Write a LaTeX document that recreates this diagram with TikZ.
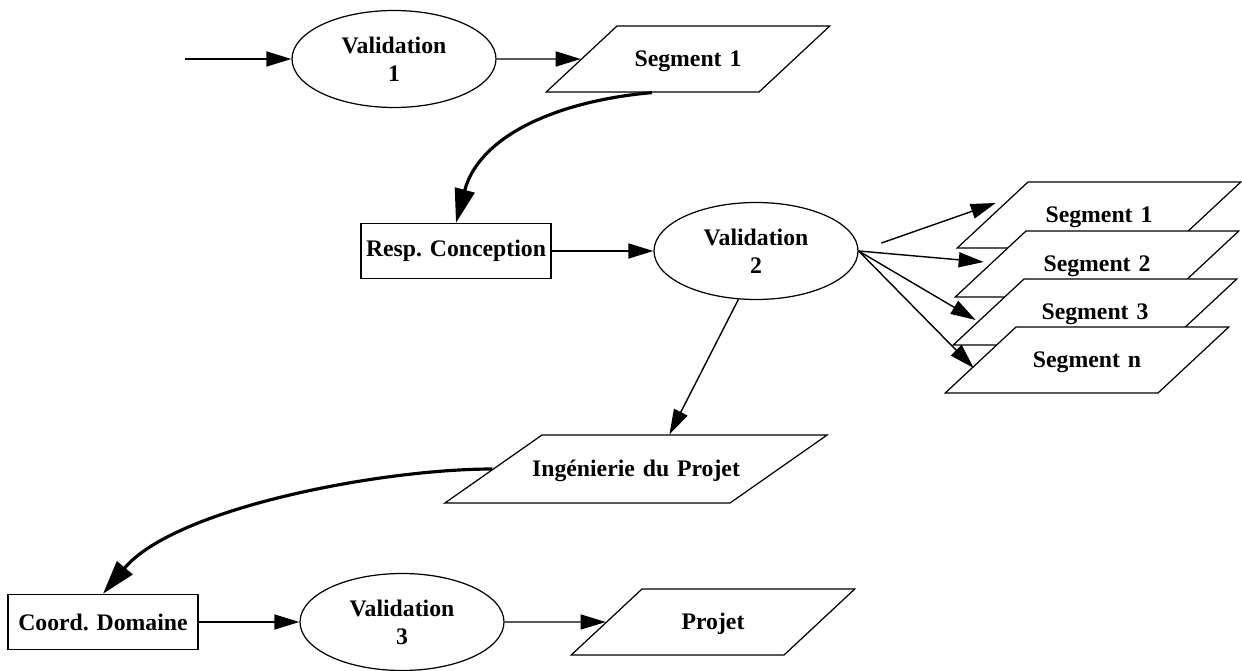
\documentclass[tikz,border=0pt]{standalone}
\usepackage{fontspec}
\setmainfont{Liberation Serif}
\usetikzlibrary{arrows.meta, positioning, shapes.geometric, calc}

\begin{document}
\begin{tikzpicture}[
    x=0.2mm, y=-0.2mm,
    every node/.style={font=\fontsize{13.5}{16}\selectfont\bfseries, align=center},
    valid/.style={ellipse, draw, line width=0.7pt, minimum width=40.8mm,
                  minimum height=19.4mm, inner sep=0pt},
    box/.style={rectangle, draw, line width=0.8pt, minimum width=38mm,
                minimum height=11mm, inner sep=0pt},
    seg/.style={trapezium, trapezium left angle=43, trapezium right angle=137,
                draw, fill=white, line width=0.7pt, inner sep=0pt,
                text width=28.4mm, text height=8.17mm, text depth=5.03mm},
    arr/.style={-{Triangle[length=5mm, width=3mm]}, line width=0.8pt},
    curv/.style={-{Triangle[length=6.8mm, width=4mm]}, line width=1.8pt}
  ]
  \useasboundingbox (0,0) rectangle (1242,671);

  \coordinate (in) at (185,59);
  \node[valid] (v1) at (394,59) {Validation\\1};
  \node[seg] (seg1) at (688,59) {Segment 1};
  \node[box] (resp) at (456,251) {Resp. Conception};
  \node[valid] (v2) at (756,251) {Validation\\2};

  % pile des segments
  \node[seg] (s1) at (1099,215) {Segment 1};
  \node[seg] (s2) at (1097,264) {Segment 2};
  \node[seg] (s3) at (1095,312) {Segment 3};
  \node[seg] (sn) at (1087,360) {Segment n};

  \node[seg, trapezium left angle=35, trapezium right angle=145, text width=37.6mm,
        text height=8.37mm, text depth=5.23mm] (ing) at (636,469)
        {\makebox[\linewidth]{Ingénierie du Projet}};
  \node[box] (coord) at (103,622) {Coord. Domaine};
  \node[valid] (v3) at (402,622) {Validation\\3};
  \node[seg] (proj) at (713,622) {Projet};

  \draw[arr] (in) -- (v1);
  \draw[arr] (v1) -- (seg1);
  \draw[curv] (seg1.bottom side) to[out=185, in=75] (resp.north);
  \draw[arr] (resp) -- (v2);
  \draw[arr, shorten <=4.8mm] (v2.east) -- ($(s1.left side)+(4,-12)$);
  \draw[arr] (v2.east) -- ($(s2.left side)+(-6,-2)$);
  \draw[arr] (v2.east) -- ($(s3.left side)+(-12,8)$);
  \draw[arr] (v2.east) -- ($(sn.left side)+(-6,8)$);
  \draw[arr] (v2.250) -- ($(ing.top side)+(-16,0)$);
  \draw[curv] (ing.left side) to[out=180, in=50, looseness=0.7] (coord.north);
  \draw[arr] (coord) -- (v3);
  \draw[arr] (v3) -- (proj);
\end{tikzpicture}
\end{document}
